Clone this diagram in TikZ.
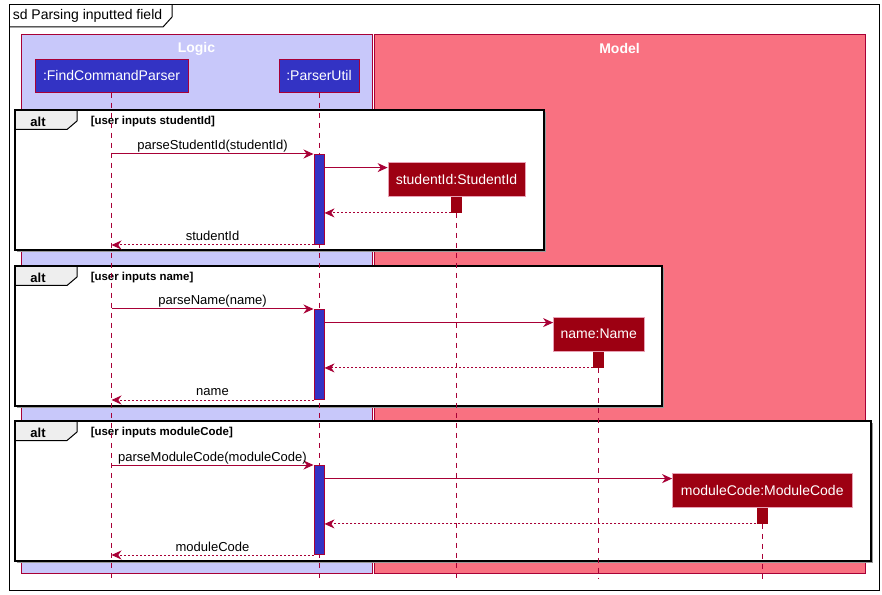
\documentclass[tikz,border=0pt]{standalone}
\usepackage{fontspec}
\setmainfont{Liberation Sans}
\usetikzlibrary{arrows.meta}

\definecolor{umlred}{HTML}{A80036}
\definecolor{logicdark}{HTML}{3333C4}
\definecolor{logiclight}{HTML}{C8C8FA}
\definecolor{modeldark}{HTML}{9D0012}
\definecolor{modellight}{HTML}{F97181}
\definecolor{modelborder}{HTML}{E8A0B4}
\definecolor{tabgray}{HTML}{EEEEEE}

\tikzset{
  pkgbox/.style={draw=umlred, line width=0.75pt},
  pkglabel/.style={text=white, inner sep=0pt, font=\bfseries\fontsize{10.5}{12}\selectfont},
  partL/.style={draw=umlred, fill=logicdark, text=white, line width=0.75pt,
    minimum height=24.75pt, inner sep=0pt, font=\fontsize{10.5}{12}\selectfont},
  partM/.style={draw=modelborder, fill=modeldark, text=white, line width=0.6pt,
    minimum height=25.5pt, inner sep=0pt, font=\fontsize{10.5}{12}\selectfont},
  actL/.style={draw=umlred, fill=logicdark, line width=0.75pt, minimum width=7.5pt,
    inner sep=0pt, anchor=north},
  actM/.style={fill=modeldark, minimum width=8.25pt, minimum height=12pt,
    inner sep=0pt, anchor=north},
  life/.style={draw=umlred, line width=0.75pt, dash pattern=on 3.75pt off 3.75pt},
  msg/.style={draw=umlred, line width=0.75pt,
    -{Stealth[length=7.5pt,width=6.75pt,inset=2.4pt]}},
  ret/.style={msg, dash pattern=on 1.5pt off 1.5pt},
  lbl/.style={midway, anchor=base, yshift=3pt, inner sep=0pt,
    font=\fontsize{9.75}{11}\selectfont},
  altframe/.style={draw=black, line width=1.15pt},
  alttab/.style={draw=black, fill=tabgray, line width=0.75pt},
  altkw/.style={inner sep=0pt, font=\bfseries\fontsize{9.75}{11}\selectfont},
  guardtxt/.style={inner sep=0pt, anchor=west, font=\bfseries\fontsize{8.6}{10}\selectfont},
}

% combined fragment: name, x1, y1, x2, y2, guard
\newcommand\altblock[6]{%
  \fill[black!40] (#2+2,#3+2) rectangle (#4+2,#5+2);
  \fill[white] (#2,#3) rectangle (#4,#5);
  \draw[alttab] (#2,#3) -- (#2+62,#3) -- (#2+62,#3+11) -- (#2+52,#3+19.5)
    -- (#2,#3+19.5) -- cycle;
  \draw[altframe] (#2,#3) rectangle (#4,#5);
  \node[altkw] (#1kw) at (#2+23,#3+11.5) {alt};
  \node[guardtxt] (#1g) at (#2+75.5,#3+12) {#6};
}

\begin{document}
\begin{tikzpicture}[x=0.75pt, y=-0.75pt]
\useasboundingbox (0,0) rectangle (882,595);
\fill[white] (0,0) rectangle (882,595);

% outer sequence diagram frame with its title tab
\draw[black, line width=0.75pt] (9,5) rectangle (879,590);
\draw[black, line width=0.75pt] (9,27) -- (163,27) -- (172,17) -- (172,5);
\node[anchor=west, inner sep=0pt, font=\fontsize{10.5}{12}\selectfont]
  (title) at (12.5,16) {sd Parsing inputted field};

% package boxes
\draw[pkgbox, fill=logiclight] (21,35) rectangle (372,573);
\draw[pkgbox, fill=modellight] (374,35) rectangle (865,573);
\node[pkglabel] (logiclbl) at (196.5,48.5) {Logic};
\node[pkglabel] (modellbl) at (619.5,48.5) {Model};

% alternative fragments
\altblock{altA}{15}{110}{544}{250}{[user inputs studentId]}
\altblock{altB}{15}{266}{662}{406}{[user inputs name]}
\altblock{altC}{15}{421}{871}{561}{[user inputs moduleCode]}

\coordinate (lifeend) at (0,579);

% logic participants and their lifelines
\node[partL, minimum width=114.75pt] (fcp) at (111.5,75.75) {:FindCommandParser};
\node[partL, minimum width=60pt] (pu) at (319,75.75) {:ParserUtil};
\draw[life] (fcp.south) -- (fcp.south |- lifeend);
\draw[life] (pu.south) -- (pu.south |- lifeend);

% ParserUtil activations
\node[actL, minimum height=67.5pt] (a1) at (319,154) {};
\node[actL, minimum height=67.5pt] (a2) at (319,309) {};
\node[actL, minimum height=66.75pt] (a3) at (319,465) {};

% --- studentId ---
\draw[msg] (fcp.south |- a1.north) -- node[lbl]{parseStudentId(studentId)} (a1.north west);
\node[partM, minimum width=102.75pt] (sid) at (456.5,179) {studentId:StudentId};
\node[actM] (sa) at (sid.south) {};
\coordinate (csid) at ([yshift=-4.5pt]sid.north west);
\draw[msg] (a1.east |- csid) -- (csid);
\draw[life] (sa.south) -- (sa.south |- lifeend);
\draw[ret] (sa.south west) -- (a1.east |- sa.south);
\draw[ret] (a1.south west) -- node[lbl]{studentId} (fcp.south |- a1.south);

% --- name ---
\draw[msg] (fcp.south |- a2.north) -- node[lbl]{parseName(name)} (a2.north west);
\node[partM, minimum width=67.9pt] (nm) at (598.75,334) {name:Name};
\node[actM] (na) at (nm.south) {};
\coordinate (cnm) at ([yshift=-4.5pt]nm.north west);
\draw[msg] (a2.east |- cnm) -- (cnm);
\draw[life] (na.south) -- (na.south |- lifeend);
\draw[ret] (na.south west) -- (a2.east |- na.south);
\draw[ret] (a2.south west) -- node[lbl]{name} (fcp.south |- a2.south);

% --- moduleCode ---
\draw[msg] (fcp.south |- a3.north) -- node[lbl]{parseModuleCode(moduleCode)} (a3.north west);
\node[partM, minimum width=134.6pt] (mc) at (762.25,490) {moduleCode:ModuleCode};
\node[actM] (ma) at (mc.south) {};
\coordinate (cmc) at ([yshift=-4.5pt]mc.north west);
\draw[msg] (a3.east |- cmc) -- (cmc);
\draw[life] (ma.south) -- (ma.south |- lifeend);
\draw[ret] (ma.south west) -- (a3.east |- ma.south);
\draw[ret] (a3.south west) -- node[lbl]{moduleCode} (fcp.south |- a3.south);
\end{tikzpicture}
\end{document}
